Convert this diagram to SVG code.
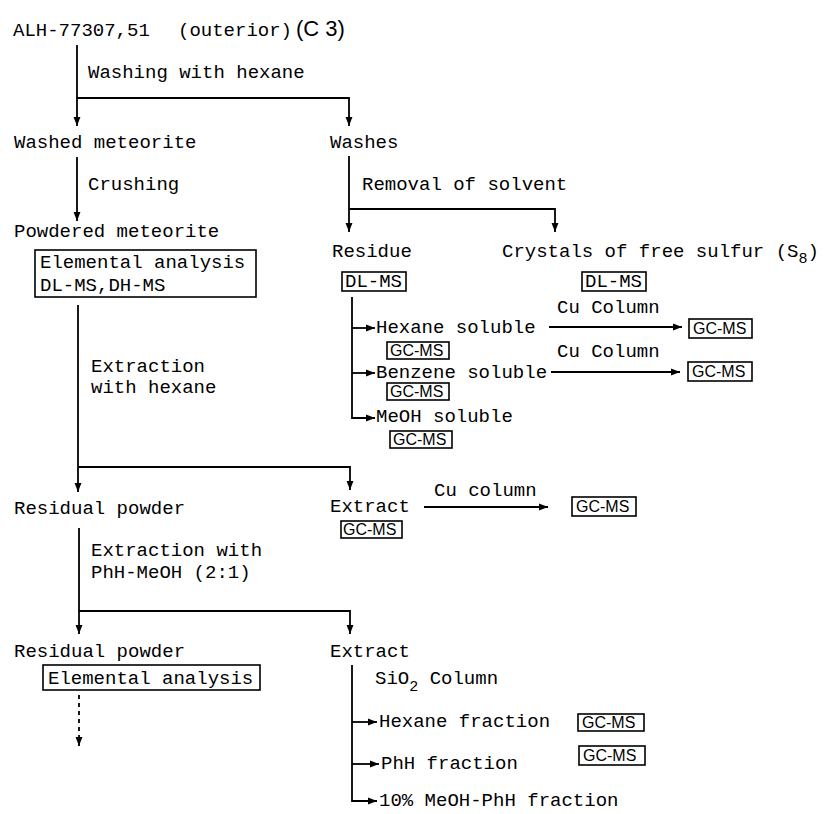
<svg xmlns="http://www.w3.org/2000/svg" width="824" height="814" viewBox="0 0 824 814">
<defs>
<marker id="ah" viewBox="0 0 10 10" refX="10" refY="5" markerUnits="userSpaceOnUse" markerWidth="9" markerHeight="9" orient="auto">
<path d="M0,1.2 L10,5 L0,8.8 z" fill="#000"/>
</marker>
<style>
.t{font-family:"Liberation Mono","DejaVu Sans Mono",monospace;font-size:19px;fill:#000}
.g{font-family:"Liberation Sans",Arial,sans-serif;font-size:16px;fill:#000}
.c{fill:none;stroke:#000;stroke-width:1.8}
.a{marker-end:url(#ah)}
.b{fill:#fff;stroke:#000;stroke-width:1.6}
</style>
</defs>
<rect width="824" height="814" fill="#fff"/>
<g id="connectors">
<path class="c a" d="M77,45 V126"/>
<path class="c a" d="M77,98 H349 V126"/>
<path class="c a" d="M77,157 V221"/>
<path class="c a" d="M349,156 V232"/>
<path class="c a" d="M349,209 H555 V232"/>
<path class="c a" d="M352,297 V418 H375"/>
<path class="c a" d="M352,328 H375"/>
<path class="c a" d="M352,373 H375"/>
<path class="c a" d="M549,327 H682"/>
<path class="c a" d="M551,372 H680"/>
<path class="c a" d="M78,305 V492"/>
<path class="c a" d="M78,467 H350 V490"/>
<path class="c a" d="M424,507 H548"/>
<path class="c a" d="M79,528 V634"/>
<path class="c a" d="M79,611 H350 V634"/>
<path class="c a" d="M79,695 V746" stroke-dasharray="4,4"/>
<path class="c a" d="M352,665 V801 H377"/>
<path class="c a" d="M352,722 H377"/>
<path class="c a" d="M352,764 H379"/>
<text class="t" x="88" y="78">Washing with hexane</text>
<text class="t" x="88" y="190">Crushing</text>
<text class="t" x="362" y="190">Removal of solvent</text>
<text class="t" x="91" y="372">Extraction</text>
<text class="t" x="91" y="393">with hexane</text>
<text class="t" x="557" y="313">Cu Column</text>
<text class="t" x="557" y="357">Cu Column</text>
<text class="t" x="434" y="496">Cu column</text>
<text class="t" x="91" y="556">Extraction with</text>
<text class="t" x="91" y="578">PhH-MeOH (2:1)</text>
<text class="t" x="375" y="684">SiO<tspan font-size="15" dy="7">2</tspan><tspan dy="-7"> Column</tspan></text>
</g>
<g id="sample">
<text class="t" x="13" y="36">ALH-77307,51</text>
<text class="t" x="178" y="36" font-size="18">(outerior)</text>
<text x="296" y="36" font-family="Liberation Sans,Arial,sans-serif" font-size="22">(C 3)</text>
</g>
<g id="washed-meteorite"><text class="t" x="14" y="148">Washed meteorite</text></g>
<g id="washes"><text class="t" x="330" y="148">Washes</text></g>
<g id="powdered-meteorite">
<text class="t" x="14" y="237">Powdered meteorite</text>
<rect class="b" x="35" y="250" width="221" height="47"/>
<text class="t" x="40" y="268">Elemental analysis</text>
<text class="t" x="40" y="291">DL-MS,DH-MS</text>
</g>
<g id="residue">
<text class="t" x="332" y="257">Residue</text>
<rect class="b" x="342" y="272" width="64" height="19"/>
<text class="t" x="345" y="287">DL-MS</text>
</g>
<g id="sulfur">
<text class="t" x="502" y="257">Crystals of free sulfur (S<tspan font-size="15" dy="6">8</tspan><tspan dy="-6">)</tspan></text>
<rect class="b" x="582" y="272" width="64" height="19"/>
<text class="t" x="585" y="287">DL-MS</text>
</g>
<g id="hexane-soluble">
<text class="t" x="376" y="333">Hexane soluble</text>
<rect class="b" x="387" y="342" width="62" height="17"/>
<text class="g" x="390" y="356">GC-MS</text>
</g>
<g id="benzene-soluble">
<text class="t" x="376" y="378">Benzene soluble</text>
<rect class="b" x="387" y="383" width="62" height="17"/>
<text class="g" x="390" y="397">GC-MS</text>
</g>
<g id="meoh-soluble">
<text class="t" x="376" y="422">MeOH soluble</text>
<rect class="b" x="390" y="431" width="62" height="17"/>
<text class="g" x="393" y="445">GC-MS</text>
</g>
<g id="gcms-hexane-cu">
<rect class="b" x="689" y="319" width="63" height="19"/>
<text class="g" x="693" y="334">GC-MS</text>
</g>
<g id="gcms-benzene-cu">
<rect class="b" x="688" y="362" width="64" height="19"/>
<text class="g" x="692" y="377">GC-MS</text>
</g>
<g id="residual-powder-1"><text class="t" x="14" y="514">Residual powder</text></g>
<g id="extract-1">
<text class="t" x="330" y="512">Extract</text>
<rect class="b" x="341" y="521" width="61" height="17"/>
<text class="g" x="343" y="535">GC-MS</text>
</g>
<g id="gcms-extract-cu">
<rect class="b" x="572" y="497" width="64" height="19"/>
<text class="g" x="576" y="512">GC-MS</text>
</g>
<g id="residual-powder-2">
<text class="t" x="14" y="657">Residual powder</text>
<rect class="b" x="43" y="665" width="217" height="25"/>
<text class="t" x="48" y="684">Elemental analysis</text>
</g>
<g id="extract-2"><text class="t" x="330" y="657">Extract</text></g>
<g id="hexane-fraction">
<text class="t" x="379" y="727">Hexane fraction</text>
<rect class="b" x="578" y="714" width="66" height="17"/>
<text class="g" x="582" y="728">GC-MS</text>
</g>
<g id="phh-fraction">
<text class="t" x="381" y="769">PhH fraction</text>
<rect class="b" x="579" y="746" width="66" height="19"/>
<text class="g" x="583" y="761">GC-MS</text>
</g>
<g id="meoh-phh-fraction"><text class="t" x="379" y="806">10% MeOH-PhH fraction</text></g>
</svg>
